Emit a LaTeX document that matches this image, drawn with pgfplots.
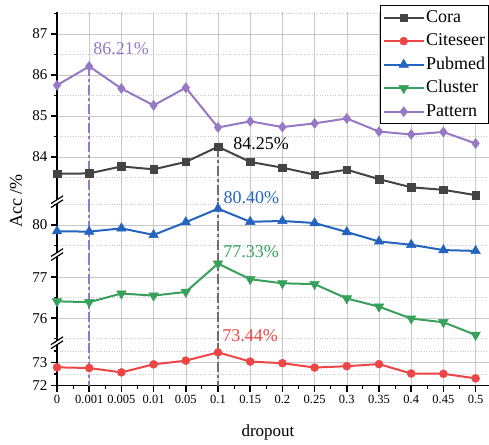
\documentclass[border=0pt]{standalone}
\usepackage{fontspec}
\setmainfont{Liberation Serif}
\usepackage{pgfplots}
\pgfplotsset{compat=1.18}
\definecolor{cCora}{RGB}{68,68,68}
\definecolor{cCite}{RGB}{238,70,70}
\definecolor{cPub}{RGB}{36,100,190}
\definecolor{cClus}{RGB}{55,160,90}
\definecolor{cPat}{RGB}{150,120,196}
\definecolor{gridc}{RGB}{200,200,200}
\definecolor{vline}{RGB}{110,110,110}
\tikzset{
 lab/.style={font=\fontsize{18}{21}\selectfont},
 vl/.style={line width=1.5pt, dash pattern=on 10pt off 3pt on 3pt off 3pt},
}
\pgfplotsset{
 base/.style={
  x=32.2pt, xmin=0, xmax=13.42,
  anchor=south west, clip=false,
  axis y line*=left, axis x line*=bottom,
  axis line style={-, line width=1.5pt, black},
  tick align=outside,
  xtick={0,...,13}, minor x tick num=1,
  xmajorgrids, ymajorgrids, yminorgrids,
  major grid style={line width=0.6pt, gridc},
  minor grid style={line width=0.6pt, gridc, dotted},
  major tick length=6pt, minor tick length=3.5pt,
  major tick style={black, line width=1.5pt},
  minor tick style={black, line width=1.1pt},
  yticklabel style={font=\fontsize{15}{18}\selectfont},
  xticklabel style={font=\fontsize{12.5}{15}\selectfont},
  /pgf/number format/assume math mode=true,
  scaled y ticks=false,
  yticklabel={\pgfmathprintnumber[fixed,precision=0]{\tick}},
  every axis plot/.append style={line width=2pt},
 },
 hidex/.style={x axis line style={draw=none}, xticklabels={}, xtick style={draw=none}, minor x tick num=0},
}
\begin{document}
\begin{tikzpicture}
\useasboundingbox (0,0) rectangle (489pt,444pt);
% ---- top segment: Cora & Pattern
\begin{axis}[base, hidex, at={(57pt,242.3pt)}, y=41pt, ymin=82.91, ymax=87.53,
  ytick={84,85,86,87}, minor ytick={83.5,84.5,85.5,86.5,87.5},
  legend style={at={(1,1.037)}, anchor=north east, draw=black, line width=0.8pt,
    font=\fontsize{18}{21}\selectfont, inner sep=2pt, row sep=3.5pt,
    nodes={inner sep=1.5pt, text height=13pt, text depth=4pt}},
  legend cell align=left,
  legend image code/.code={\draw[mark repeat=2,mark phase=2,#1] plot coordinates {(0pt,0pt) (20pt,0pt) (40pt,0pt)};},
]
\draw[vl, cPat] (axis cs:1,86.21) -- (axis cs:1,82.91);
\draw[vl, vline] (axis cs:5,84.25) -- (axis cs:5,82.91);
\addlegendimage{cCora, line width=2pt, mark=square*, mark size=3.8pt, mark options={line width=0.5pt}}
\addlegendimage{cCite, line width=2pt, mark=*, mark size=4pt, mark options={line width=0.5pt}}
\addlegendimage{cPub, line width=2pt, mark=triangle*, mark size=5.5pt, mark options={line width=0.5pt}}
\addlegendimage{cClus, line width=2pt, mark=triangle*, mark size=5.5pt, mark options={line width=0.5pt, rotate=180}}
\addlegendimage{cPat, line width=2pt, mark=diamond*, mark size=5pt, mark options={line width=0.5pt}}
\addplot[forget plot, cCora, mark=square*, mark size=3.8pt, mark options={line width=0.5pt}] coordinates {
(0,83.59) (1,83.60) (2,83.77) (3,83.70) (4,83.88) (5,84.25) (6,83.88) (7,83.74) (8,83.57) (9,83.69) (10,83.46) (11,83.26) (12,83.20) (13,83.07)};
\addplot[forget plot, cPat, mark=diamond*, mark size=5pt, mark options={line width=0.5pt}] coordinates {
(0,85.75) (1,86.21) (2,85.67) (3,85.26) (4,85.69) (5,84.72) (6,84.87) (7,84.73) (8,84.82) (9,84.94) (10,84.62) (11,84.55) (12,84.61) (13,84.33)};
\node[lab, text=cPat] at (axis cs:1.99,86.65) {86.21\%};
\node[lab, text=black] at (axis cs:6.34,84.33) {84.25\%};
\legend{Cora,Citeseer,Pubmed,Cluster,Pattern}
\end{axis}
% ---- Pubmed segment
\begin{axis}[base, hidex, at={(57pt,189.4pt)}, y=41pt, ymin=79.28, ymax=80.57,
  ytick={80}, minor ytick={79.5,80.5}]
\draw[vl, cPat] (axis cs:1,80.57) -- (axis cs:1,79.28);
\draw[vl, vline] (axis cs:5,80.57) -- (axis cs:5,79.28);
\addplot[cPub, mark=triangle*, mark size=5.5pt, mark options={line width=0.5pt}] coordinates {
(0,79.85) (1,79.84) (2,79.92) (3,79.76) (4,80.07) (5,80.40) (6,80.08) (7,80.10) (8,80.05) (9,79.83) (10,79.60) (11,79.52) (12,79.39) (13,79.37)};
\node[lab, text=cPub] at (axis cs:6.04,80.66) {80.40\%};
\end{axis}
% ---- Cluster segment
\begin{axis}[base, hidex, at={(57pt,101.25pt)}, y=41pt, ymin=75.40, ymax=77.55,
  ytick={76,77}, minor ytick={75.5,76.5}]
\draw[vl, cPat] (axis cs:1,77.55) -- (axis cs:1,75.40);
\draw[vl, vline] (axis cs:5,77.55) -- (axis cs:5,75.40);
\addplot[cClus, mark=triangle*, mark size=5.5pt, mark options={line width=0.5pt, rotate=180}] coordinates {
(0,76.41) (1,76.39) (2,76.60) (3,76.55) (4,76.64) (5,77.33) (6,76.95) (7,76.85) (8,76.83) (9,76.48) (10,76.28) (11,75.99) (12,75.90) (13,75.59)};
\node[lab, text=cClus] at (axis cs:6.03,77.63) {77.33\%};
\end{axis}
% ---- Citeseer segment
\begin{axis}[base, at={(57pt,58.5pt)}, y=23pt, ymin=72, ymax=73.86,
  ytick={72,73}, minor ytick={72.5,73.5},
  xticklabels={0,0.001,0.005,0.01,0.05,0.1,0.15,0.2,0.25,0.3,0.35,0.4,0.45,0.5}]
\draw[vl, cPat] (axis cs:1,73.86) -- (axis cs:1,72);
\draw[vl, vline] (axis cs:5,73.86) -- (axis cs:5,72);
\addplot[cCite, mark=*, mark size=4pt, mark options={line width=0.5pt}] coordinates {
(0,72.79) (1,72.76) (2,72.57) (3,72.92) (4,73.08) (5,73.44) (6,73.04) (7,72.97) (8,72.78) (9,72.84) (10,72.93) (11,72.52) (12,72.51) (13,72.31)};
\node[lab, text=cCite] at (axis cs:6.0,74.15) {73.44\%};
\end{axis}
% ---- axis breaks
\foreach \yy in {242.3,189.4,101.25} {
 \begin{scope}[shift={(57pt,\yy pt)}]
  \fill[white] (-1.8pt,-3.2pt) -- (1.8pt,-0.8pt) -- (1.8pt,3.2pt) -- (-1.8pt,0.8pt) -- cycle;
  \draw[line width=1.2pt] (-6pt,-5.9pt) -- (6pt,1.9pt);
  \draw[line width=1.2pt] (-6pt,-1.9pt) -- (6pt,5.9pt);
 \end{scope}
}
\node[font=\fontsize{17}{20}\selectfont] at (268pt,12pt) {dropout};
\node[font=\fontsize{18}{21}\selectfont, rotate=90] at (16pt,243pt) {Acc /\%};
\end{tikzpicture}
\end{document}
